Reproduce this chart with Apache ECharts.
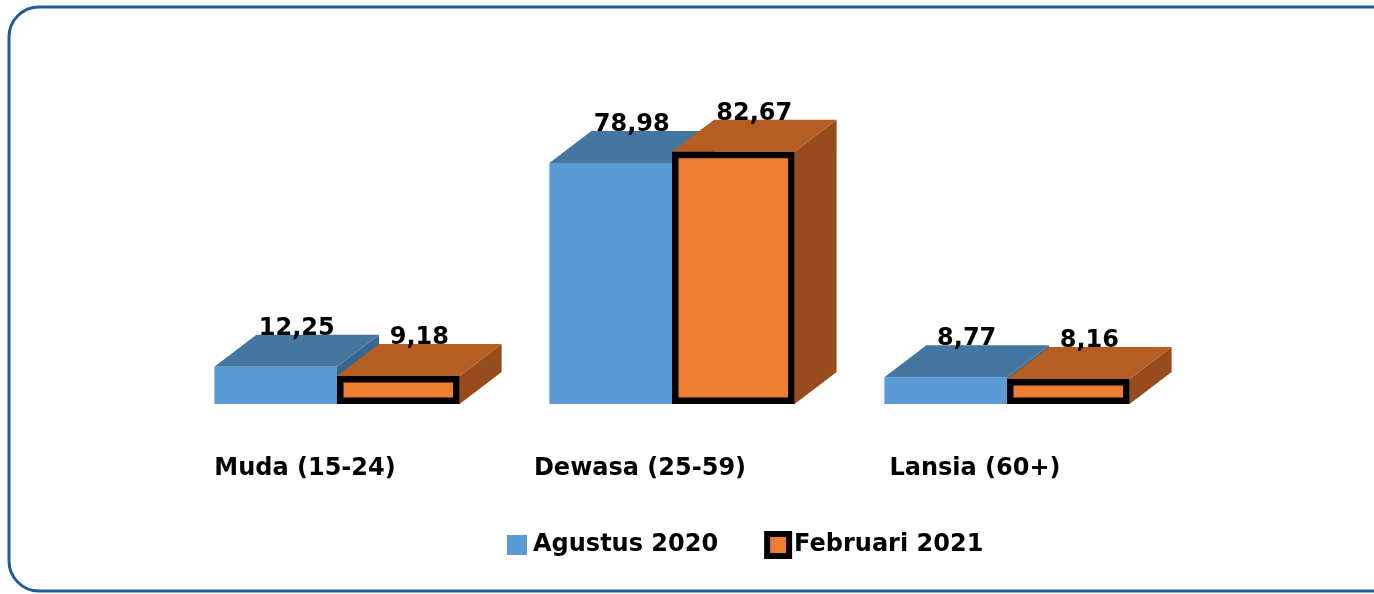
<!DOCTYPE html>
<html>
<head>
<meta charset="utf-8">
<script src="https://cdn.jsdelivr.net/npm/echarts@6/dist/echarts.min.js"></script>
<style>
html,body{margin:0;padding:0;background:#fff;}
#chart{width:1374px;height:594px;}
</style>
</head>
<body>
<div id="chart"></div>
<script>
const categories = ['Muda (15-24)', 'Dewasa (25-59)', 'Lansia (60+)'];
const seriesNames = ['Agustus 2020', 'Februari 2021'];
const agustus2020 = [12.25, 78.98, 8.77];
const februari2021 = [9.18, 82.67, 8.16];

const FONT = '"DejaVu Sans"';
const DX = 42, DY = -32;
const palettes = [
  { front: '#5B9BD5', top: '#44769F', side: '#3A6690' },
  { front: '#ED7D31', top: '#B55E23', side: '#974C1D' }
];

function fmt(v) { return v.toFixed(2).replace('.', ','); }

function makeRender(s) {
  return function (params, api) {
    const cat = api.value(0), val = api.value(1);
    const base = api.coord([cat, 0]);
    const top = api.coord([cat, val]);
    const band = api.size([1, 0])[0];
    const bw = band * 0.366;
    const x0 = base[0] + (s === 0 ? -bw : 0);
    const x1 = x0 + bw;
    const yB = base[1], yT = top[1];
    const p = palettes[s];
    const children = [
      { type: 'polygon', shape: { points: [[x1, yT], [x1 + DX, yT + DY], [x1 + DX, yB + DY], [x1, yB]] }, style: { fill: p.side }, z2: 1 },
      { type: 'polygon', shape: { points: [[x0, yT], [x1, yT], [x1 + DX, yT + DY], [x0 + DX, yT + DY]] }, style: { fill: p.top }, z2: 2 },
      { type: 'rect', shape: { x: x0, y: yT, width: bw, height: yB - yT }, style: { fill: p.front }, z2: 3 }
    ];
    if (s === 1) {
      const lw = 6.5;
      children.push({ type: 'rect', shape: { x: x0 + lw / 2, y: yT + lw / 2, width: bw - lw, height: yB - yT - lw },
        style: { fill: null, stroke: '#000', lineWidth: lw }, z2: 4 });
    }
    children.push({ type: 'text', z2: 100,
      style: { text: fmt(val), x: (x0 + x1) / 2 + 21, y: yT + DY - 6, align: 'center', verticalAlign: 'middle',
        font: 'bold 24px ' + FONT, fill: '#000' } });
    return { type: 'group', children: children };
  };
}

const chart = echarts.init(document.getElementById('chart'));
chart.setOption({
  backgroundColor: '#fff',
  animation: false,
  graphic: [{
    type: 'rect', z: -10, silent: true,
    shape: { x: 9, y: 7, width: 1420, height: 584, r: 30 },
    style: { fill: null, stroke: '#1F5D99', lineWidth: 3 }
  }],
  grid: { left: 169.5, right: 199.5, top: 99, bottom: 190 },
  xAxis: {
    type: 'category', data: categories,
    axisLine: { show: false }, axisTick: { show: false }, splitLine: { show: false },
    axisLabel: { margin: 53, padding: [0, 64, 0, 0], fontFamily: FONT, fontWeight: 'bold', fontSize: 24, color: '#000' }
  },
  yAxis: { type: 'value', min: 0, max: 100, show: false, splitLine: { show: false } },
  legend: {
    left: 505, top: 531, padding: 0, icon: 'rect', itemWidth: 22, itemHeight: 22, itemGap: 46,
    textStyle: { fontFamily: FONT, fontWeight: 'bold', fontSize: 24, color: '#000' },
    data: [
      { name: seriesNames[0], itemStyle: { color: '#5B9BD5', borderColor: '#fff', borderWidth: 2 } },
      { name: seriesNames[1], itemStyle: { color: '#ED7D31', borderColor: '#000', borderWidth: 6 } }
    ]
  },
  series: [
    { type: 'custom', name: seriesNames[0], itemStyle: { color: '#5B9BD5' }, renderItem: makeRender(0),
      data: agustus2020.map((v, i) => [i, v]), encode: { x: 0, y: 1 } },
    { type: 'custom', name: seriesNames[1], itemStyle: { color: '#ED7D31' }, renderItem: makeRender(1),
      data: februari2021.map((v, i) => [i, v]), encode: { x: 0, y: 1 } }
  ]
});
</script>
</body>
</html>
